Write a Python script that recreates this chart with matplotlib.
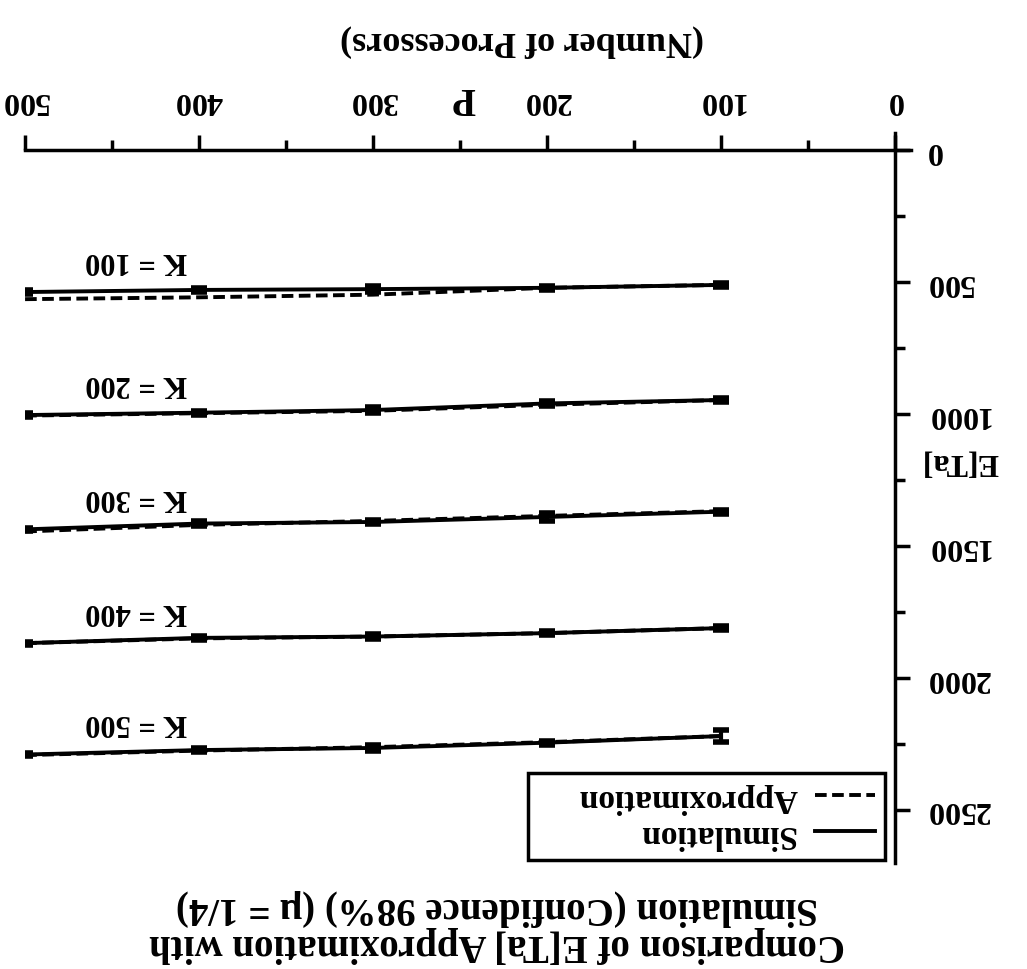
import matplotlib
matplotlib.use('Agg')
import matplotlib.pyplot as plt
from matplotlib.lines import Line2D
from matplotlib.ticker import MultipleLocator

plt.rcParams['font.family'] = 'Liberation Serif'
plt.rcParams['font.weight'] = 'bold'

# number of processors
procs = [100, 200, 300, 400, 500]
k_values = [100, 200, 300, 400, 500]

# E[Ta] from simulation, one list per K
sim_k100 = [511, 522, 527, 530, 538]
sim_k200 = [947, 960, 985, 995, 1004]
sim_k300 = [1370, 1390, 1409, 1415, 1437]
sim_k400 = [1811, 1830, 1843, 1848, 1868]
sim_k500 = [2220, 2245, 2265, 2273, 2290]

# half width of the 98% confidence interval
err_k100 = [8, 8, 10, 8, 6]
err_k200 = [8, 10, 12, 8, 6]
err_k300 = [8, 15, 8, 8, 6]
err_k400 = [8, 8, 10, 8, 6]
err_k500 = [22, 8, 10, 8, 6]

# E[Ta] from the approximation
approx_k100 = [511, 522, 548, 558, 565]
approx_k200 = [947, 965, 988, 997, 1006]
approx_k300 = [1368, 1386, 1405, 1420, 1445]
approx_k400 = [1811, 1830, 1843, 1850, 1868]
approx_k500 = [2220, 2243, 2262, 2275, 2292]

sims = [sim_k100, sim_k200, sim_k300, sim_k400, sim_k500]
errs = [err_k100, err_k200, err_k300, err_k400, err_k500]
approxs = [approx_k100, approx_k200, approx_k300, approx_k400, approx_k500]

fig = plt.figure(figsize=(10.27, 9.69), dpi=100)
ax = fig.add_axes([0.0243, 0.1096, 0.8624, 0.7533])

lw = 2.8
dash = (0, (3, 1.4))
for k, sim, err, appr in zip(k_values, sims, errs, approxs):
    ax.plot(procs, appr, color='black', lw=lw, linestyle=dash)
    ax.errorbar(procs, sim, yerr=err, color='black', lw=lw, capsize=6, capthick=4, elinewidth=3)
    ax.annotate('K = %d' % k, xy=(436, sim[-1]), xytext=(0, 23), textcoords='offset points',
                ha='center', va='center', rotation=180, fontsize=22)

# whole chart is drawn turned half a revolution
ax.set_xlim(500, -9)
ax.set_ylim(2700, -65)

ax.xaxis.tick_top()
ax.yaxis.tick_right()
ax.spines['left'].set_visible(False)
ax.spines['bottom'].set_visible(False)
ax.spines['top'].set_position(('data', 0))
ax.spines['right'].set_position(('data', 0))
ax.spines['top'].set_linewidth(2.5)
ax.spines['right'].set_linewidth(2.5)

ax.xaxis.set_major_locator(MultipleLocator(100))
ax.xaxis.set_minor_locator(MultipleLocator(50))
ax.yaxis.set_minor_locator(MultipleLocator(250))
ax.set_yticks([0, 500, 1000, 1500, 2000, 2500])
ax.tick_params(which='major', direction='out', length=11, width=2.5, labelsize=23, labelrotation=180)
ax.tick_params(which='minor', direction='out', length=7, width=2.5)
ax.tick_params(axis='x', pad=14)
ax.tick_params(axis='y', pad=11)
for lab in ax.get_yticklabels():
    lab.set_va('center')

fig.text(0.451, 0.899, 'P', fontsize=28, rotation=180, ha='center', va='center')
fig.text(0.508, 0.958, '(Number of Processors)', fontsize=26, rotation=180, ha='center', va='center')
fig.text(0.935, 0.523, 'E[Ta]', fontsize=23, rotation=180, ha='center', va='center')
fig.text(0.484, 0.044, 'Comparison of E[Ta] Approximation with\nSimulation (Confidence 98%) (\u03bc = 1/4)',
         fontsize=28, rotation=180, ha='center', va='center', linespacing=1.0)

h_sim = Line2D([], [], color='black', lw=lw)
h_app = Line2D([], [], color='black', lw=lw, linestyle=dash)
leg = ax.legend([h_app, h_sim], ['Approximation     ', 'Simulation     '], loc='lower right',
                bbox_to_anchor=(0.8617, 0.1125), bbox_transform=fig.transFigure,
                markerfirst=False, fancybox=False, framealpha=1, edgecolor='black',
                fontsize=24, handlelength=1.8, handletextpad=0.5, labelspacing=0.15,
                borderpad=0.3, borderaxespad=0)
leg.get_frame().set_linewidth(2.5)
for t in leg.get_texts():
    t.set_rotation(180)

fig.savefig('out.png', dpi=100)
